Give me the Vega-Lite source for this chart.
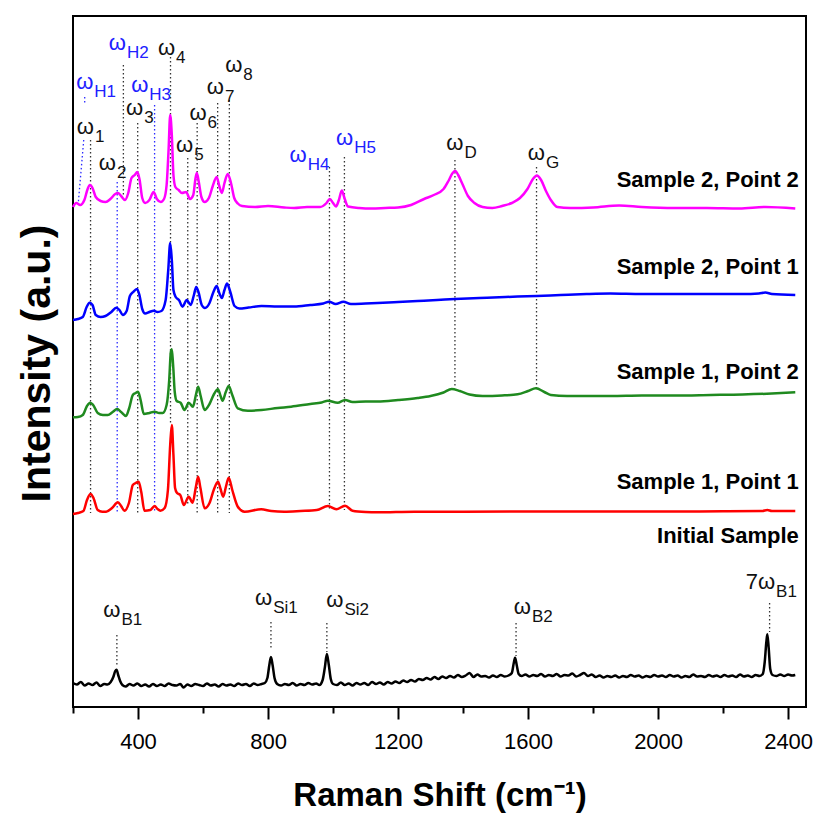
{
  "$schema": "https://vega.github.io/schema/vega-lite/v6.json",
  "width": 733,
  "height": 691,
  "autosize": {"type": "none"},
  "padding": {"left": 73, "top": 16, "right": 16, "bottom": 108},
  "background": "white",
  "config": {
    "view": {"stroke": "#000000", "strokeWidth": 2},
    "font": "Liberation Sans"
  },
  "datasets": {
    "spectra": [
      {"s":"S2P2","x":200,"y":500},{"s":"S2P2","x":210,"y":504},{"s":"S2P2","x":222,"y":502},{"s":"S2P2","x":235,"y":507},{"s":"S2P2","x":245,"y":518},{"s":"S2P2","x":252,"y":522},{"s":"S2P2","x":260,"y":519},{"s":"S2P2","x":270,"y":510},{"s":"S2P2","x":285,"y":506},{"s":"S2P2","x":300,"y":505},{"s":"S2P2","x":315,"y":508},{"s":"S2P2","x":330,"y":513},{"s":"S2P2","x":338,"y":514},{"s":"S2P2","x":348,"y":511},{"s":"S2P2","x":360,"y":507},{"s":"S2P2","x":370,"y":514},{"s":"S2P2","x":380,"y":529},{"s":"S2P2","x":390,"y":532},{"s":"S2P2","x":398,"y":535},{"s":"S2P2","x":405,"y":527},{"s":"S2P2","x":413,"y":509},{"s":"S2P2","x":422,"y":504},{"s":"S2P2","x":435,"y":507},{"s":"S2P2","x":448,"y":515},{"s":"S2P2","x":458,"y":508},{"s":"S2P2","x":470,"y":505},{"s":"S2P2","x":480,"y":508},{"s":"S2P2","x":488,"y":522},{"s":"S2P2","x":494,"y":557},{"s":"S2P2","x":499,"y":592},{"s":"S2P2","x":504,"y":572},{"s":"S2P2","x":509,"y":532},{"s":"S2P2","x":515,"y":520},{"s":"S2P2","x":525,"y":517},{"s":"S2P2","x":535,"y":514},{"s":"S2P2","x":548,"y":515},{"s":"S2P2","x":560,"y":508},{"s":"S2P2","x":570,"y":512},{"s":"S2P2","x":577,"y":529},{"s":"S2P2","x":581,"y":534},{"s":"S2P2","x":587,"y":525},{"s":"S2P2","x":595,"y":510},{"s":"S2P2","x":605,"y":505},{"s":"S2P2","x":618,"y":509},{"s":"S2P2","x":630,"y":521},{"s":"S2P2","x":642,"y":530},{"s":"S2P2","x":650,"y":521},{"s":"S2P2","x":658,"y":514},{"s":"S2P2","x":666,"y":524},{"s":"S2P2","x":676,"y":533},{"s":"S2P2","x":686,"y":524},{"s":"S2P2","x":696,"y":509},{"s":"S2P2","x":707,"y":503.5},{"s":"S2P2","x":720,"y":501},{"s":"S2P2","x":760,"y":500},{"s":"S2P2","x":800,"y":501},{"s":"S2P2","x":850,"y":499.5},{"s":"S2P2","x":880,"y":499},{"s":"S2P2","x":920,"y":500},{"s":"S2P2","x":960,"y":500},{"s":"S2P2","x":980,"y":504},{"s":"S2P2","x":990,"y":508},{"s":"S2P2","x":1000,"y":504},{"s":"S2P2","x":1009,"y":500.5},{"s":"S2P2","x":1018,"y":507},{"s":"S2P2","x":1027,"y":516.5},{"s":"S2P2","x":1036,"y":508},{"s":"S2P2","x":1046,"y":500.5},{"s":"S2P2","x":1080,"y":499},{"s":"S2P2","x":1120,"y":498.5},{"s":"S2P2","x":1160,"y":499},{"s":"S2P2","x":1200,"y":499.5},{"s":"S2P2","x":1240,"y":502},{"s":"S2P2","x":1280,"y":508},{"s":"S2P2","x":1310,"y":512},{"s":"S2P2","x":1340,"y":518},{"s":"S2P2","x":1355,"y":526},{"s":"S2P2","x":1368,"y":534},{"s":"S2P2","x":1376,"y":536},{"s":"S2P2","x":1385,"y":532},{"s":"S2P2","x":1398,"y":523},{"s":"S2P2","x":1415,"y":511},{"s":"S2P2","x":1435,"y":504},{"s":"S2P2","x":1460,"y":500},{"s":"S2P2","x":1490,"y":499},{"s":"S2P2","x":1520,"y":501},{"s":"S2P2","x":1550,"y":504},{"s":"S2P2","x":1575,"y":509},{"s":"S2P2","x":1598,"y":518},{"s":"S2P2","x":1615,"y":528},{"s":"S2P2","x":1627,"y":531.5},{"s":"S2P2","x":1640,"y":527},{"s":"S2P2","x":1655,"y":516},{"s":"S2P2","x":1670,"y":507},{"s":"S2P2","x":1690,"y":500},{"s":"S2P2","x":1730,"y":499},{"s":"S2P2","x":1800,"y":499.5},{"s":"S2P2","x":1880,"y":501.5},{"s":"S2P2","x":1950,"y":500},{"s":"S2P2","x":2050,"y":499},{"s":"S2P2","x":2150,"y":499},{"s":"S2P2","x":2250,"y":498.5},{"s":"S2P2","x":2330,"y":500},{"s":"S2P2","x":2422,"y":498.5},

      {"s":"S2P1","x":200,"y":387},{"s":"S2P1","x":215,"y":388},{"s":"S2P1","x":230,"y":390},{"s":"S2P1","x":242,"y":400},{"s":"S2P1","x":251,"y":404.3},{"s":"S2P1","x":260,"y":402},{"s":"S2P1","x":270,"y":392},{"s":"S2P1","x":285,"y":390},{"s":"S2P1","x":300,"y":391},{"s":"S2P1","x":318,"y":395},{"s":"S2P1","x":333,"y":399.3},{"s":"S2P1","x":343,"y":397},{"s":"S2P1","x":353,"y":392},{"s":"S2P1","x":365,"y":396},{"s":"S2P1","x":375,"y":411},{"s":"S2P1","x":385,"y":415},{"s":"S2P1","x":397,"y":418},{"s":"S2P1","x":405,"y":411},{"s":"S2P1","x":413,"y":398},{"s":"S2P1","x":422,"y":393.5},{"s":"S2P1","x":435,"y":395},{"s":"S2P1","x":448,"y":396.3},{"s":"S2P1","x":460,"y":395},{"s":"S2P1","x":472,"y":396},{"s":"S2P1","x":485,"y":407},{"s":"S2P1","x":493,"y":437},{"s":"S2P1","x":499,"y":464},{"s":"S2P1","x":504,"y":447},{"s":"S2P1","x":509,"y":417},{"s":"S2P1","x":516,"y":410},{"s":"S2P1","x":526,"y":407},{"s":"S2P1","x":537,"y":400.3},{"s":"S2P1","x":550,"y":407},{"s":"S2P1","x":562,"y":402},{"s":"S2P1","x":572,"y":412},{"s":"S2P1","x":579,"y":420},{"s":"S2P1","x":586,"y":415},{"s":"S2P1","x":596,"y":402},{"s":"S2P1","x":606,"y":399},{"s":"S2P1","x":620,"y":404},{"s":"S2P1","x":632,"y":415},{"s":"S2P1","x":642,"y":421},{"s":"S2P1","x":650,"y":414},{"s":"S2P1","x":658,"y":409},{"s":"S2P1","x":666,"y":417},{"s":"S2P1","x":674,"y":423.5},{"s":"S2P1","x":684,"y":415},{"s":"S2P1","x":697,"y":401},{"s":"S2P1","x":712,"y":398.5},{"s":"S2P1","x":740,"y":399.5},{"s":"S2P1","x":780,"y":401},{"s":"S2P1","x":830,"y":400.5},{"s":"S2P1","x":880,"y":400.5},{"s":"S2P1","x":930,"y":402},{"s":"S2P1","x":970,"y":403.5},{"s":"S2P1","x":988,"y":405.3},{"s":"S2P1","x":1008,"y":403},{"s":"S2P1","x":1032,"y":405.3},{"s":"S2P1","x":1055,"y":403},{"s":"S2P1","x":1100,"y":403.5},{"s":"S2P1","x":1137,"y":404},{"s":"S2P1","x":1200,"y":405},{"s":"S2P1","x":1260,"y":406},{"s":"S2P1","x":1320,"y":407},{"s":"S2P1","x":1375,"y":408},{"s":"S2P1","x":1450,"y":409},{"s":"S2P1","x":1530,"y":410},{"s":"S2P1","x":1626,"y":411},{"s":"S2P1","x":1700,"y":412},{"s":"S2P1","x":1780,"y":413},{"s":"S2P1","x":1853,"y":413.5},{"s":"S2P1","x":1950,"y":413},{"s":"S2P1","x":2050,"y":413},{"s":"S2P1","x":2160,"y":413},{"s":"S2P1","x":2260,"y":413},{"s":"S2P1","x":2310,"y":413.5},{"s":"S2P1","x":2330,"y":414.5},{"s":"S2P1","x":2350,"y":413},{"s":"S2P1","x":2422,"y":412},

      {"s":"S1P2","x":200,"y":289.7},{"s":"S1P2","x":215,"y":290},{"s":"S1P2","x":230,"y":292},{"s":"S1P2","x":243,"y":301},{"s":"S1P2","x":253,"y":304.3},{"s":"S1P2","x":262,"y":302},{"s":"S1P2","x":276,"y":294},{"s":"S1P2","x":292,"y":292},{"s":"S1P2","x":307,"y":292},{"s":"S1P2","x":322,"y":295},{"s":"S1P2","x":336,"y":298},{"s":"S1P2","x":348,"y":295},{"s":"S1P2","x":363,"y":291},{"s":"S1P2","x":373,"y":299},{"s":"S1P2","x":384,"y":312},{"s":"S1P2","x":393,"y":314},{"s":"S1P2","x":400,"y":315.3},{"s":"S1P2","x":408,"y":307},{"s":"S1P2","x":418,"y":293},{"s":"S1P2","x":435,"y":294},{"s":"S1P2","x":451,"y":295.3},{"s":"S1P2","x":465,"y":294},{"s":"S1P2","x":476,"y":294},{"s":"S1P2","x":488,"y":302},{"s":"S1P2","x":496,"y":327},{"s":"S1P2","x":501,"y":355},{"s":"S1P2","x":504,"y":357.7},{"s":"S1P2","x":508,"y":342},{"s":"S1P2","x":513,"y":315},{"s":"S1P2","x":519,"y":306},{"s":"S1P2","x":531,"y":304.3},{"s":"S1P2","x":543,"y":297},{"s":"S1P2","x":556,"y":304.3},{"s":"S1P2","x":569,"y":300.3},{"s":"S1P2","x":578,"y":312},{"s":"S1P2","x":585,"y":320.3},{"s":"S1P2","x":592,"y":312},{"s":"S1P2","x":605,"y":297},{"s":"S1P2","x":620,"y":303},{"s":"S1P2","x":634,"y":313},{"s":"S1P2","x":646,"y":317.7},{"s":"S1P2","x":654,"y":311},{"s":"S1P2","x":660,"y":306.3},{"s":"S1P2","x":670,"y":315},{"s":"S1P2","x":679,"y":321},{"s":"S1P2","x":690,"y":312},{"s":"S1P2","x":707,"y":298.7},{"s":"S1P2","x":738,"y":296.3},{"s":"S1P2","x":780,"y":297},{"s":"S1P2","x":830,"y":299},{"s":"S1P2","x":871,"y":300.3},{"s":"S1P2","x":930,"y":303},{"s":"S1P2","x":965,"y":304.5},{"s":"S1P2","x":984,"y":306.3},{"s":"S1P2","x":1014,"y":304.3},{"s":"S1P2","x":1037,"y":307},{"s":"S1P2","x":1060,"y":305},{"s":"S1P2","x":1100,"y":305.5},{"s":"S1P2","x":1137,"y":305.5},{"s":"S1P2","x":1200,"y":307},{"s":"S1P2","x":1260,"y":309},{"s":"S1P2","x":1300,"y":311},{"s":"S1P2","x":1340,"y":314.5},{"s":"S1P2","x":1365,"y":318},{"s":"S1P2","x":1390,"y":316},{"s":"S1P2","x":1420,"y":312.5},{"s":"S1P2","x":1460,"y":311},{"s":"S1P2","x":1520,"y":311.5},{"s":"S1P2","x":1568,"y":312.7},{"s":"S1P2","x":1600,"y":316},{"s":"S1P2","x":1624,"y":318.7},{"s":"S1P2","x":1650,"y":315},{"s":"S1P2","x":1670,"y":312},{"s":"S1P2","x":1720,"y":311},{"s":"S1P2","x":1800,"y":311},{"s":"S1P2","x":1854,"y":311},{"s":"S1P2","x":1950,"y":311.5},{"s":"S1P2","x":2050,"y":311.5},{"s":"S1P2","x":2162,"y":312},{"s":"S1P2","x":2260,"y":312.5},{"s":"S1P2","x":2350,"y":313.5},{"s":"S1P2","x":2422,"y":314.7},

      {"s":"S1P1","x":200,"y":193},{"s":"S1P1","x":215,"y":194},{"s":"S1P1","x":232,"y":196},{"s":"S1P1","x":243,"y":207},{"s":"S1P1","x":254,"y":213},{"s":"S1P1","x":263,"y":209},{"s":"S1P1","x":276,"y":197},{"s":"S1P1","x":290,"y":195.3},{"s":"S1P1","x":302,"y":195.3},{"s":"S1P1","x":320,"y":199},{"s":"S1P1","x":338,"y":204.7},{"s":"S1P1","x":348,"y":201},{"s":"S1P1","x":358,"y":196.3},{"s":"S1P1","x":372,"y":204},{"s":"S1P1","x":384,"y":222},{"s":"S1P1","x":393,"y":224},{"s":"S1P1","x":402,"y":225.3},{"s":"S1P1","x":410,"y":215},{"s":"S1P1","x":420,"y":196.3},{"s":"S1P1","x":438,"y":197},{"s":"S1P1","x":451,"y":201},{"s":"S1P1","x":460,"y":198},{"s":"S1P1","x":469,"y":196.3},{"s":"S1P1","x":482,"y":199},{"s":"S1P1","x":492,"y":217},{"s":"S1P1","x":499,"y":262},{"s":"S1P1","x":504,"y":282},{"s":"S1P1","x":509,"y":252},{"s":"S1P1","x":514,"y":219},{"s":"S1P1","x":520,"y":214},{"s":"S1P1","x":530,"y":212},{"s":"S1P1","x":541,"y":202},{"s":"S1P1","x":556,"y":210.3},{"s":"S1P1","x":568,"y":204.3},{"s":"S1P1","x":578,"y":220},{"s":"S1P1","x":585,"y":230.3},{"s":"S1P1","x":592,"y":219},{"s":"S1P1","x":605,"y":198.7},{"s":"S1P1","x":620,"y":204},{"s":"S1P1","x":634,"y":218},{"s":"S1P1","x":646,"y":225.3},{"s":"S1P1","x":654,"y":218},{"s":"S1P1","x":662,"y":210.3},{"s":"S1P1","x":671,"y":221},{"s":"S1P1","x":679,"y":229.3},{"s":"S1P1","x":690,"y":217},{"s":"S1P1","x":707,"y":200.3},{"s":"S1P1","x":728,"y":195.3},{"s":"S1P1","x":779,"y":197.7},{"s":"S1P1","x":810,"y":196},{"s":"S1P1","x":850,"y":195.3},{"s":"S1P1","x":900,"y":196},{"s":"S1P1","x":950,"y":197},{"s":"S1P1","x":984,"y":201},{"s":"S1P1","x":1010,"y":197.7},{"s":"S1P1","x":1037,"y":201.3},{"s":"S1P1","x":1060,"y":196.3},{"s":"S1P1","x":1100,"y":195},{"s":"S1P1","x":1137,"y":194.7},{"s":"S1P1","x":1250,"y":195.3},{"s":"S1P1","x":1400,"y":195.3},{"s":"S1P1","x":1600,"y":195.5},{"s":"S1P1","x":1800,"y":195.5},{"s":"S1P1","x":2000,"y":195.5},{"s":"S1P1","x":2200,"y":195.7},{"s":"S1P1","x":2320,"y":196},{"s":"S1P1","x":2336,"y":197},{"s":"S1P1","x":2350,"y":196},{"s":"S1P1","x":2422,"y":196},

      {"s":"Init","x":200,"y":24},{"s":"Init","x":212,"y":22.5},{"s":"Init","x":224,"y":25},{"s":"Init","x":236,"y":21.5},{"s":"Init","x":248,"y":23.5},{"s":"Init","x":260,"y":22},{"s":"Init","x":272,"y":24.5},{"s":"Init","x":284,"y":21},{"s":"Init","x":296,"y":23},{"s":"Init","x":306,"y":22.5},{"s":"Init","x":316,"y":25},{"s":"Init","x":324,"y":30},{"s":"Init","x":330,"y":36},{"s":"Init","x":334,"y":37.3},{"s":"Init","x":339,"y":32},{"s":"Init","x":345,"y":26},{"s":"Init","x":352,"y":22},{"s":"Init","x":362,"y":20.5},{"s":"Init","x":374,"y":23},{"s":"Init","x":386,"y":21.5},{"s":"Init","x":398,"y":23.5},{"s":"Init","x":410,"y":21},{"s":"Init","x":422,"y":22.5},{"s":"Init","x":434,"y":20.5},{"s":"Init","x":446,"y":23},{"s":"Init","x":458,"y":21},{"s":"Init","x":470,"y":22.5},{"s":"Init","x":482,"y":21},{"s":"Init","x":494,"y":23.5},{"s":"Init","x":506,"y":22},{"s":"Init","x":518,"y":21.5},{"s":"Init","x":530,"y":23},{"s":"Init","x":540,"y":19.5},{"s":"Init","x":552,"y":22.5},{"s":"Init","x":564,"y":21},{"s":"Init","x":576,"y":23},{"s":"Init","x":588,"y":22},{"s":"Init","x":600,"y":21},{"s":"Init","x":612,"y":23.5},{"s":"Init","x":624,"y":21.5},{"s":"Init","x":636,"y":22.5},{"s":"Init","x":648,"y":20.5},{"s":"Init","x":660,"y":23},{"s":"Init","x":672,"y":21.5},{"s":"Init","x":684,"y":22.5},{"s":"Init","x":696,"y":21},{"s":"Init","x":708,"y":23.5},{"s":"Init","x":720,"y":22},{"s":"Init","x":732,"y":23},{"s":"Init","x":744,"y":21},{"s":"Init","x":756,"y":23.5},{"s":"Init","x":768,"y":22},{"s":"Init","x":780,"y":23},{"s":"Init","x":790,"y":24},{"s":"Init","x":798,"y":29},{"s":"Init","x":804,"y":42},{"s":"Init","x":809,"y":50},{"s":"Init","x":814,"y":42},{"s":"Init","x":820,"y":29},{"s":"Init","x":828,"y":23},{"s":"Init","x":840,"y":21.5},{"s":"Init","x":852,"y":23},{"s":"Init","x":864,"y":22},{"s":"Init","x":876,"y":24},{"s":"Init","x":888,"y":21.5},{"s":"Init","x":900,"y":23},{"s":"Init","x":912,"y":22},{"s":"Init","x":924,"y":24},{"s":"Init","x":936,"y":22.5},{"s":"Init","x":948,"y":23.5},{"s":"Init","x":958,"y":22},{"s":"Init","x":968,"y":27},{"s":"Init","x":975,"y":40},{"s":"Init","x":981,"y":53},{"s":"Init","x":987,"y":42},{"s":"Init","x":993,"y":28},{"s":"Init","x":1000,"y":23},{"s":"Init","x":1012,"y":22},{"s":"Init","x":1024,"y":24.5},{"s":"Init","x":1036,"y":22},{"s":"Init","x":1048,"y":23.5},{"s":"Init","x":1060,"y":21.5},{"s":"Init","x":1072,"y":24},{"s":"Init","x":1084,"y":22.5},{"s":"Init","x":1096,"y":24},{"s":"Init","x":1108,"y":22},{"s":"Init","x":1120,"y":25},{"s":"Init","x":1132,"y":23},{"s":"Init","x":1144,"y":24.5},{"s":"Init","x":1156,"y":22.5},{"s":"Init","x":1168,"y":25},{"s":"Init","x":1180,"y":23.5},{"s":"Init","x":1192,"y":25.5},{"s":"Init","x":1204,"y":24},{"s":"Init","x":1216,"y":26.5},{"s":"Init","x":1228,"y":25},{"s":"Init","x":1240,"y":27},{"s":"Init","x":1252,"y":25.5},{"s":"Init","x":1264,"y":28},{"s":"Init","x":1276,"y":27},{"s":"Init","x":1288,"y":29},{"s":"Init","x":1300,"y":27.5},{"s":"Init","x":1312,"y":30},{"s":"Init","x":1324,"y":28},{"s":"Init","x":1336,"y":30.5},{"s":"Init","x":1348,"y":29},{"s":"Init","x":1360,"y":31},{"s":"Init","x":1372,"y":29.5},{"s":"Init","x":1384,"y":32},{"s":"Init","x":1396,"y":30},{"s":"Init","x":1408,"y":31.5},{"s":"Init","x":1420,"y":34},{"s":"Init","x":1432,"y":30},{"s":"Init","x":1444,"y":32.5},{"s":"Init","x":1456,"y":30.5},{"s":"Init","x":1468,"y":31},{"s":"Init","x":1480,"y":29.5},{"s":"Init","x":1492,"y":31.5},{"s":"Init","x":1504,"y":30},{"s":"Init","x":1516,"y":32},{"s":"Init","x":1528,"y":30.5},{"s":"Init","x":1540,"y":31.5},{"s":"Init","x":1550,"y":34},{"s":"Init","x":1556,"y":44},{"s":"Init","x":1560,"y":49.3},{"s":"Init","x":1565,"y":42},{"s":"Init","x":1571,"y":33},{"s":"Init","x":1580,"y":31},{"s":"Init","x":1592,"y":32.5},{"s":"Init","x":1604,"y":30.5},{"s":"Init","x":1616,"y":32},{"s":"Init","x":1628,"y":31},{"s":"Init","x":1640,"y":33},{"s":"Init","x":1652,"y":30.5},{"s":"Init","x":1664,"y":32},{"s":"Init","x":1676,"y":31},{"s":"Init","x":1688,"y":33},{"s":"Init","x":1700,"y":30.5},{"s":"Init","x":1712,"y":32},{"s":"Init","x":1724,"y":31.5},{"s":"Init","x":1736,"y":33.5},{"s":"Init","x":1748,"y":30.5},{"s":"Init","x":1760,"y":32},{"s":"Init","x":1772,"y":34},{"s":"Init","x":1784,"y":31},{"s":"Init","x":1796,"y":32.5},{"s":"Init","x":1808,"y":30},{"s":"Init","x":1820,"y":31.5},{"s":"Init","x":1832,"y":29.5},{"s":"Init","x":1844,"y":31},{"s":"Init","x":1856,"y":30},{"s":"Init","x":1868,"y":31.5},{"s":"Init","x":1880,"y":29.5},{"s":"Init","x":1892,"y":31},{"s":"Init","x":1904,"y":30},{"s":"Init","x":1916,"y":32},{"s":"Init","x":1928,"y":30.5},{"s":"Init","x":1940,"y":31.5},{"s":"Init","x":1952,"y":29.5},{"s":"Init","x":1964,"y":31},{"s":"Init","x":1976,"y":30},{"s":"Init","x":1988,"y":32},{"s":"Init","x":2000,"y":30.5},{"s":"Init","x":2012,"y":31.5},{"s":"Init","x":2024,"y":30},{"s":"Init","x":2036,"y":32},{"s":"Init","x":2048,"y":30.5},{"s":"Init","x":2060,"y":31.5},{"s":"Init","x":2072,"y":29.5},{"s":"Init","x":2084,"y":31},{"s":"Init","x":2096,"y":30},{"s":"Init","x":2108,"y":32.5},{"s":"Init","x":2120,"y":30.5},{"s":"Init","x":2132,"y":31},{"s":"Init","x":2144,"y":30},{"s":"Init","x":2156,"y":32},{"s":"Init","x":2168,"y":30.5},{"s":"Init","x":2180,"y":31.5},{"s":"Init","x":2192,"y":30},{"s":"Init","x":2204,"y":32},{"s":"Init","x":2216,"y":30.5},{"s":"Init","x":2228,"y":31.5},{"s":"Init","x":2240,"y":30},{"s":"Init","x":2252,"y":32.5},{"s":"Init","x":2264,"y":30.5},{"s":"Init","x":2276,"y":31.5},{"s":"Init","x":2288,"y":30},{"s":"Init","x":2300,"y":32},{"s":"Init","x":2312,"y":31},{"s":"Init","x":2322,"y":33},{"s":"Init","x":2328,"y":45},{"s":"Init","x":2333,"y":65},{"s":"Init","x":2336,"y":72.7},{"s":"Init","x":2340,"y":60},{"s":"Init","x":2345,"y":38},{"s":"Init","x":2352,"y":32},{"s":"Init","x":2364,"y":31},{"s":"Init","x":2376,"y":32.5},{"s":"Init","x":2388,"y":31},{"s":"Init","x":2400,"y":32.5},{"s":"Init","x":2412,"y":31.5},{"s":"Init","x":2422,"y":32}
    ],
    "guides": [
      {"x":236,"x2":236,"y":610,"y2":603,"kind":"H"},
      {"x":233,"x2":216,"y":567,"y2":503,"kind":"H"},
      {"x":254,"x2":254,"y":567,"y2":194,"kind":"P"},
      {"x":355,"x2":355,"y":642,"y2":510,"kind":"P"},
      {"x":336,"x2":336,"y":525,"y2":194,"kind":"H"},
      {"x":399,"x2":399,"y":584,"y2":194,"kind":"P"},
      {"x":451,"x2":451,"y":602,"y2":194,"kind":"H"},
      {"x":500,"x2":500,"y":650,"y2":282,"kind":"P"},
      {"x":553,"x2":553,"y":549,"y2":202,"kind":"P"},
      {"x":582,"x2":582,"y":584,"y2":194,"kind":"P"},
      {"x":645,"x2":645,"y":604,"y2":194,"kind":"P"},
      {"x":681,"x2":681,"y":607,"y2":194,"kind":"P"},
      {"x":989,"x2":989,"y":540,"y2":197,"kind":"P"},
      {"x":1035,"x2":1035,"y":550,"y2":197,"kind":"P"},
      {"x":1375,"x2":1375,"y":547,"y2":319,"kind":"P"},
      {"x":1626,"x2":1626,"y":540,"y2":319,"kind":"P"},
      {"x":335,"x2":335,"y":72,"y2":42,"kind":"P"},
      {"x":809,"x2":809,"y":85,"y2":57,"kind":"P"},
      {"x":981,"x2":981,"y":84,"y2":55,"kind":"P"},
      {"x":1563,"x2":1563,"y":84,"y2":51,"kind":"P"},
      {"x":2343,"x2":2343,"y":104,"y2":75,"kind":"P"}
    ],
    "peaks": [
      {"main":"ω","sub":"H1","x":262.5,"y":625,"kind":"H"},
      {"main":"ω","sub":"1","x":264.6,"y":580,"kind":"P"},
      {"main":"ω","sub":"H2","x":363,"y":664,"kind":"H"},
      {"main":"ω","sub":"2","x":332,"y":544,"kind":"P"},
      {"main":"ω","sub":"3","x":416,"y":599,"kind":"P"},
      {"main":"ω","sub":"H3","x":431.7,"y":622,"kind":"H"},
      {"main":"ω","sub":"4","x":514,"y":659,"kind":"P"},
      {"main":"ω","sub":"5","x":570,"y":562,"kind":"P"},
      {"main":"ω","sub":"6","x":611,"y":594,"kind":"P"},
      {"main":"ω","sub":"7","x":664.5,"y":620,"kind":"P"},
      {"main":"ω","sub":"8","x":721,"y":642,"kind":"P"},
      {"main":"ω","sub":"H4","x":919,"y":552,"kind":"H"},
      {"main":"ω","sub":"H5","x":1062,"y":569,"kind":"H"},
      {"main":"ω","sub":"D","x":1401,"y":564,"kind":"P"},
      {"main":"ω","sub":"G","x":1652,"y":554,"kind":"P"},
      {"main":"ω","sub":"B1","x":346,"y":97,"kind":"P"},
      {"main":"ω","sub":"Si1","x":813,"y":109,"kind":"P"},
      {"main":"ω","sub":"Si2","x":1032,"y":107,"kind":"P"},
      {"main":"ω","sub":"B2","x":1609,"y":100,"kind":"P"},
      {"main":"7ω","sub":"B1","x":2360,"y":125,"kind":"P"}
    ],
    "names": [
      {"name":"Sample 2, Point 2","x":2433,"y":527},
      {"name":"Sample 2, Point 1","x":2433,"y":440},
      {"name":"Sample 1, Point 2","x":2433,"y":335},
      {"name":"Sample 1, Point 1","x":2433,"y":225},
      {"name":"Initial Sample","x":2433,"y":171}
    ]
  },
  "resolve": {"axis": {"x": "independent", "y": "independent"}, "scale": {"color": "independent"}},
  "layer": [
    {
      "data": {"name": "guides"},
      "mark": {"type": "rule", "strokeDash": [1.5, 2.5], "strokeWidth": 1.3},
      "encoding": {
        "x": {"field": "x", "type": "quantitative",
              "scale": {"domain": [200, 2455], "nice": false, "zero": false},
              "axis": {"orient": "bottom", "values": [400, 800, 1200, 1600, 2000, 2400], "format": "d", "grid": false, "domain": false,
                       "tickSize": 12, "tickWidth": 2, "tickColor": "#000000",
                       "labelFont": "'Liberation Sans Narrow', 'Liberation Sans', Arial, sans-serif", "labelFontSize": 22, "labelColor": "#000000", "labelPadding": 12,
                       "title": "Raman Shift (cm⁻¹)", "titleFont": "'Liberation Sans', Arial, sans-serif", "titleFontSize": 33, "titleFontWeight": "bold", "titleColor": "#000000",
                       "titleY": 88, "titleBaseline": "middle"}},
        "x2": {"field": "x2"},
        "y": {"field": "y", "type": "quantitative",
              "scale": {"domain": [0, 691], "nice": false, "zero": false},
              "axis": {"orient": "left", "labels": false, "ticks": false, "domain": false, "grid": false,
                       "title": "Intensity (a.u.)", "titleFont": "'Liberation Sans', Arial, sans-serif", "titleFontSize": 41, "titleFontWeight": "bold", "titleColor": "#000000",
                       "titleX": -24, "titleY": 347, "titleBaseline": "alphabetic", "titleAngle": -90, "titleAlign": "center"}},
        "y2": {"field": "y2"},
        "color": {"field": "kind", "type": "nominal", "scale": {"domain": ["P", "H"], "range": ["#333333", "#2a2aff"]}, "legend": null}
      }
    },
    {
      "data": {"name": "spectra"},
      "mark": {"type": "line", "strokeWidth": 2.5, "interpolate": "monotone"},
      "encoding": {
        "x": {"field": "x", "type": "quantitative",
              "scale": {"domain": [200, 2455], "nice": false, "zero": false},
              "axis": {"orient": "bottom", "values": [200, 600, 1000, 1400, 1800, 2200], "grid": false, "domain": false,
                       "labels": false, "tickSize": 6, "tickWidth": 2, "tickColor": "#000000", "title": null}},
        "y": {"field": "y", "type": "quantitative", "scale": {"domain": [0, 691], "nice": false, "zero": false}, "axis": null},
        "detail": {"field": "s"},
        "color": {"field": "s", "type": "nominal",
                  "scale": {"domain": ["S2P2", "S2P1", "S1P2", "S1P1", "Init"], "range": ["#ff00ff", "#0000ff", "#1f8a1f", "#ff0000", "#000000"]},
                  "legend": null}
      }
    },
    {
      "data": {"name": "names"},
      "mark": {"type": "text", "align": "right", "baseline": "middle", "fontSize": 22, "fontWeight": "bold", "font": "'Liberation Sans', Arial, sans-serif", "color": "#000000"},
      "encoding": {
        "x": {"field": "x", "type": "quantitative", "axis": null},
        "y": {"field": "y", "type": "quantitative", "axis": null},
        "text": {"field": "name"}
      }
    },
    {
      "data": {"name": "peaks"},
      "mark": {"type": "text", "align": "right", "baseline": "middle", "fontSize": 22, "font": "'Liberation Sans', Arial, sans-serif"},
      "encoding": {
        "x": {"field": "x", "type": "quantitative", "axis": null},
        "y": {"field": "y", "type": "quantitative", "axis": null},
        "text": {"field": "main"},
        "color": {"field": "kind", "type": "nominal", "scale": {"domain": ["P", "H"], "range": ["#111111", "#2020ff"]}, "legend": null}
      }
    },
    {
      "data": {"name": "peaks"},
      "mark": {"type": "text", "align": "left", "baseline": "middle", "fontSize": 17, "dx": 1, "dy": 10, "font": "'Liberation Sans', Arial, sans-serif"},
      "encoding": {
        "x": {"field": "x", "type": "quantitative", "axis": null},
        "y": {"field": "y", "type": "quantitative", "axis": null},
        "text": {"field": "sub"},
        "color": {"field": "kind", "type": "nominal", "scale": {"domain": ["P", "H"], "range": ["#111111", "#2020ff"]}, "legend": null}
      }
    }
  ]
}
